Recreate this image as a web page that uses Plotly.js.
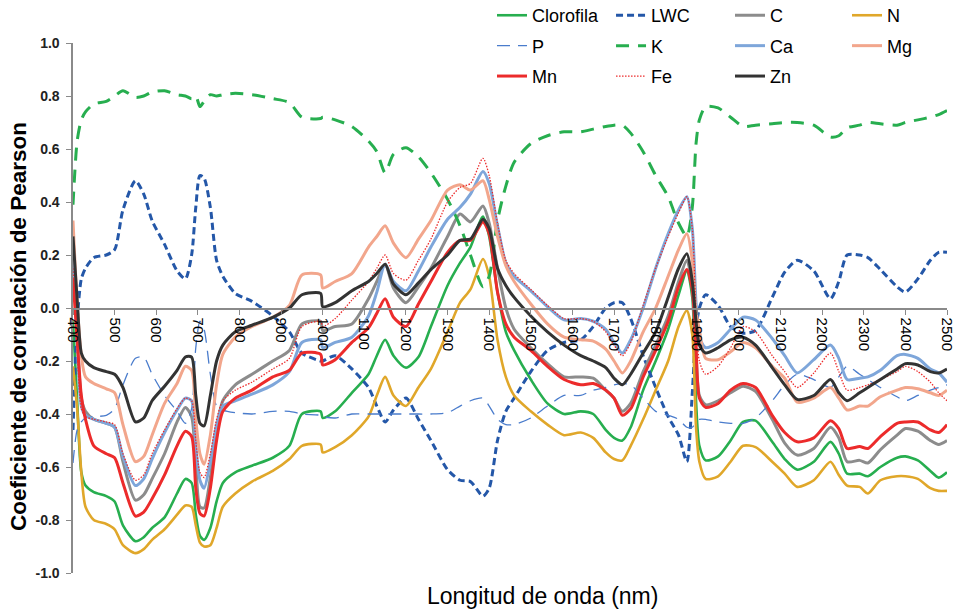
<!DOCTYPE html>
<html>
<head>
<meta charset="utf-8">
<script src="https://cdn.plot.ly/plotly-3.0.1.min.js"></script>
<style>html,body{margin:0;padding:0;background:#fff}#chart{width:957px;height:611px}</style>
</head>
<body>
<div id="chart"></div>
<script>
const wavelength = [400,410,420,430,450,480,500,520,550,570,590,620,650,670,685,695,705,715,730,745,760,790,830,880,920,950,995,1000,1030,1070,1110,1130,1150,1170,1200,1230,1260,1300,1330,1355,1385,1400,1420,1440,1460,1500,1540,1580,1620,1650,1680,1700,1720,1740,1770,1800,1830,1855,1875,1888,1897,1905,1920,1950,1980,2010,2040,2080,2110,2140,2180,2220,2240,2260,2290,2310,2340,2380,2400,2430,2460,2480,2500];

const clorofila = [-0.05,-0.35,-0.62,-0.67,-0.695,-0.71,-0.73,-0.82,-0.88,-0.865,-0.83,-0.79,-0.7,-0.645,-0.66,-0.78,-0.86,-0.875,-0.83,-0.73,-0.66,-0.62,-0.595,-0.565,-0.52,-0.4,-0.39,-0.415,-0.39,-0.32,-0.25,-0.18,-0.12,-0.18,-0.225,-0.185,-0.07,0.085,0.17,0.23,0.345,0.27,0.06,-0.09,-0.16,-0.27,-0.36,-0.4,-0.39,-0.4,-0.46,-0.49,-0.5,-0.45,-0.31,-0.2,-0.08,0.05,0.14,0.04,-0.35,-0.52,-0.575,-0.56,-0.5,-0.43,-0.425,-0.505,-0.57,-0.61,-0.58,-0.505,-0.55,-0.625,-0.625,-0.635,-0.6,-0.565,-0.56,-0.575,-0.615,-0.64,-0.62];
const lwc = [-0.46,-0.05,0.11,0.15,0.19,0.2,0.22,0.37,0.48,0.43,0.33,0.24,0.14,0.11,0.2,0.38,0.5,0.49,0.38,0.18,0.12,0.055,0.025,-0.03,-0.09,-0.17,-0.2,-0.2,-0.18,-0.23,-0.3,-0.37,-0.43,-0.385,-0.34,-0.42,-0.5,-0.61,-0.65,-0.655,-0.71,-0.68,-0.5,-0.39,-0.34,-0.24,-0.16,-0.13,-0.12,-0.07,0.0,0.02,0.02,-0.04,-0.18,-0.3,-0.41,-0.48,-0.58,-0.32,-0.08,0.0,0.05,0.01,-0.07,-0.095,-0.085,0.04,0.135,0.18,0.14,0.035,0.1,0.2,0.2,0.19,0.145,0.08,0.06,0.11,0.18,0.21,0.21];
const cVals = [0.22,-0.1,-0.34,-0.39,-0.42,-0.435,-0.45,-0.58,-0.725,-0.705,-0.645,-0.55,-0.43,-0.375,-0.41,-0.59,-0.75,-0.755,-0.64,-0.46,-0.35,-0.29,-0.25,-0.2,-0.16,-0.06,-0.05,-0.085,-0.07,-0.06,0.035,0.1,0.165,0.075,0.02,0.08,0.15,0.27,0.355,0.325,0.385,0.32,0.15,0.0,-0.08,-0.15,-0.21,-0.26,-0.26,-0.265,-0.31,-0.34,-0.39,-0.36,-0.24,-0.14,-0.03,0.1,0.18,0.08,-0.17,-0.33,-0.365,-0.35,-0.32,-0.295,-0.315,-0.42,-0.51,-0.555,-0.53,-0.45,-0.49,-0.58,-0.575,-0.585,-0.535,-0.48,-0.455,-0.465,-0.5,-0.515,-0.5];
const nVals = [-0.22,-0.38,-0.62,-0.75,-0.8,-0.815,-0.835,-0.895,-0.925,-0.91,-0.875,-0.835,-0.78,-0.745,-0.75,-0.82,-0.885,-0.9,-0.895,-0.83,-0.75,-0.7,-0.655,-0.615,-0.57,-0.52,-0.515,-0.545,-0.525,-0.48,-0.41,-0.33,-0.26,-0.33,-0.37,-0.3,-0.23,-0.09,0.02,0.07,0.185,0.12,-0.12,-0.26,-0.33,-0.39,-0.44,-0.48,-0.47,-0.49,-0.545,-0.57,-0.575,-0.52,-0.42,-0.31,-0.2,-0.07,-0.01,-0.1,-0.45,-0.58,-0.645,-0.635,-0.58,-0.52,-0.525,-0.58,-0.625,-0.675,-0.65,-0.58,-0.63,-0.67,-0.675,-0.7,-0.65,-0.635,-0.635,-0.645,-0.68,-0.69,-0.69];
const pVals = [-0.585,-0.46,-0.43,-0.415,-0.41,-0.405,-0.38,-0.29,-0.19,-0.185,-0.25,-0.33,-0.39,-0.435,-0.38,-0.15,-0.05,-0.08,-0.25,-0.37,-0.385,-0.395,-0.4,-0.39,-0.39,-0.4,-0.405,-0.41,-0.415,-0.4,-0.4,-0.4,-0.4,-0.4,-0.4,-0.4,-0.4,-0.395,-0.37,-0.35,-0.34,-0.37,-0.42,-0.44,-0.44,-0.415,-0.37,-0.33,-0.33,-0.31,-0.3,-0.29,-0.285,-0.29,-0.34,-0.39,-0.405,-0.42,-0.45,-0.45,-0.43,-0.42,-0.42,-0.43,-0.435,-0.435,-0.415,-0.35,-0.29,-0.25,-0.27,-0.3,-0.26,-0.22,-0.25,-0.27,-0.3,-0.335,-0.35,-0.33,-0.31,-0.3,-0.29];
const kVals = [0.39,0.63,0.71,0.74,0.77,0.78,0.8,0.82,0.795,0.8,0.815,0.82,0.805,0.8,0.79,0.8,0.76,0.78,0.805,0.8,0.805,0.81,0.805,0.79,0.775,0.72,0.715,0.72,0.71,0.685,0.63,0.59,0.51,0.58,0.605,0.57,0.51,0.41,0.31,0.2,0.08,0.12,0.33,0.46,0.55,0.62,0.65,0.665,0.665,0.675,0.685,0.69,0.69,0.66,0.59,0.5,0.42,0.32,0.27,0.38,0.62,0.71,0.76,0.755,0.72,0.685,0.69,0.695,0.7,0.7,0.69,0.645,0.65,0.68,0.69,0.7,0.695,0.69,0.7,0.71,0.72,0.73,0.745];
const caVals = [0.25,-0.12,-0.37,-0.405,-0.42,-0.435,-0.45,-0.56,-0.67,-0.645,-0.57,-0.47,-0.385,-0.34,-0.35,-0.52,-0.65,-0.68,-0.58,-0.44,-0.37,-0.35,-0.325,-0.29,-0.24,-0.13,-0.12,-0.15,-0.13,-0.11,-0.03,0.06,0.165,0.1,0.065,0.14,0.23,0.335,0.38,0.43,0.515,0.47,0.31,0.17,0.12,0.065,0.005,-0.045,-0.04,-0.05,-0.08,-0.13,-0.17,-0.12,0.0,0.15,0.28,0.37,0.42,0.3,0.02,-0.11,-0.15,-0.13,-0.08,-0.035,-0.045,-0.115,-0.18,-0.245,-0.195,-0.14,-0.19,-0.27,-0.265,-0.26,-0.235,-0.18,-0.175,-0.19,-0.23,-0.245,-0.28];
const mgVals = [0.33,0.02,-0.18,-0.26,-0.285,-0.305,-0.32,-0.44,-0.58,-0.56,-0.48,-0.36,-0.285,-0.22,-0.235,-0.42,-0.55,-0.59,-0.48,-0.29,-0.175,-0.11,-0.07,-0.035,0.01,0.125,0.125,0.075,0.1,0.13,0.23,0.27,0.31,0.245,0.19,0.26,0.33,0.445,0.465,0.445,0.48,0.41,0.27,0.16,0.1,0.015,-0.06,-0.11,-0.12,-0.125,-0.155,-0.2,-0.245,-0.2,-0.09,0.0,0.12,0.22,0.28,0.18,-0.02,-0.08,-0.19,-0.195,-0.165,-0.13,-0.15,-0.22,-0.265,-0.355,-0.34,-0.3,-0.34,-0.385,-0.37,-0.37,-0.335,-0.31,-0.3,-0.305,-0.32,-0.33,-0.31];
const mnVals = [0.11,-0.12,-0.33,-0.42,-0.52,-0.55,-0.565,-0.66,-0.785,-0.77,-0.72,-0.63,-0.52,-0.465,-0.485,-0.68,-0.775,-0.785,-0.68,-0.5,-0.39,-0.34,-0.31,-0.26,-0.235,-0.17,-0.175,-0.215,-0.195,-0.13,-0.075,-0.02,0.035,-0.035,-0.07,0.015,0.1,0.21,0.255,0.255,0.325,0.28,0.06,-0.06,-0.11,-0.16,-0.22,-0.27,-0.29,-0.285,-0.31,-0.34,-0.405,-0.38,-0.26,-0.16,-0.05,0.08,0.145,0.07,-0.15,-0.34,-0.375,-0.36,-0.31,-0.285,-0.3,-0.405,-0.47,-0.505,-0.49,-0.425,-0.455,-0.53,-0.523,-0.53,-0.485,-0.435,-0.43,-0.43,-0.46,-0.47,-0.44];
const feVals = [0.15,-0.15,-0.38,-0.41,-0.42,-0.43,-0.44,-0.55,-0.65,-0.63,-0.55,-0.46,-0.38,-0.34,-0.35,-0.5,-0.62,-0.64,-0.55,-0.42,-0.35,-0.31,-0.28,-0.23,-0.19,-0.07,-0.05,-0.07,-0.04,0.03,0.1,0.15,0.2,0.13,0.105,0.18,0.26,0.4,0.455,0.47,0.565,0.5,0.32,0.18,0.13,0.07,0.01,-0.04,-0.04,-0.05,-0.09,-0.14,-0.18,-0.13,0.01,0.15,0.27,0.36,0.42,0.3,-0.02,-0.2,-0.25,-0.22,-0.15,-0.07,-0.09,-0.18,-0.24,-0.3,-0.245,-0.17,-0.24,-0.31,-0.3,-0.29,-0.27,-0.24,-0.22,-0.24,-0.28,-0.32,-0.35];
const znVals = [0.27,0.03,-0.17,-0.2,-0.225,-0.24,-0.25,-0.3,-0.43,-0.415,-0.35,-0.295,-0.235,-0.185,-0.185,-0.33,-0.435,-0.445,-0.33,-0.2,-0.14,-0.09,-0.065,-0.035,0.0,0.05,0.055,0.005,0.02,0.065,0.1,0.13,0.165,0.09,0.05,0.095,0.145,0.2,0.255,0.26,0.335,0.3,0.15,0.085,0.04,-0.03,-0.09,-0.14,-0.18,-0.2,-0.225,-0.265,-0.29,-0.25,-0.17,-0.09,0.04,0.15,0.205,0.1,-0.05,-0.14,-0.17,-0.15,-0.12,-0.11,-0.14,-0.225,-0.29,-0.345,-0.33,-0.27,-0.32,-0.35,-0.32,-0.3,-0.27,-0.23,-0.21,-0.215,-0.24,-0.245,-0.23];

const xTicks = [400,500,600,700,800,900,1000,1100,1200,1300,1400,1500,1600,1700,1800,1900,2000,2100,2200,2300,2400,2500];
const yTicks = [-1,-0.8,-0.6,-0.4,-0.2,0,0.2,0.4,0.6,0.8,1];
const yTickText = ['-1.0','-0.8','-0.6','-0.4','-0.2','0.0','0.2','0.4','0.6','0.8','1.0'];

const series = [
  {name:'Clorofila', y:clorofila, color:'#27ae4f', width:2.6, dash:'solid', legend:'legend'},
  {name:'LWC', y:lwc, color:'#2457a8', width:3, dash:'7px,4px', legend:'legend2'},
  {name:'C', y:cVals, color:'#8c8c8c', width:3, dash:'solid', legend:'legend3'},
  {name:'N', y:nVals, color:'#e0a72a', width:2.6, dash:'solid', legend:'legend4'},
  {name:'P', y:pVals, color:'#4a7ccc', width:1.3, dash:'13px,8px', legend:'legend'},
  {name:'K', y:kVals, color:'#27ae4f', width:3, dash:'13px,9px', legend:'legend2'},
  {name:'Ca', y:caVals, color:'#7ea6da', width:3, dash:'solid', legend:'legend3'},
  {name:'Mg', y:mgVals, color:'#f2a68c', width:3, dash:'solid', legend:'legend4'},
  {name:'Mn', y:mnVals, color:'#ec2b2b', width:3, dash:'solid', legend:'legend'},
  {name:'Fe', y:feVals, color:'#ec2b2b', width:1.3, dash:'1.5px,1.5px', legend:'legend2'},
  {name:'Zn', y:znVals, color:'#333333', width:3, dash:'solid', legend:'legend3'}
];

const traces = series.map(s => ({
  type:'scatter', mode:'lines', name:s.name, x:wavelength, y:s.y,
  line:{color:s.color, width:s.width, dash:s.dash, shape:'spline', smoothing:0.7},
  legend:s.legend, legendgroup:s.name, hoverinfo:'skip'
}));

const legFont = {family:'Arial, Liberation Sans, sans-serif', size:18, color:'#000'};
function col(x) {
  return {orientation:'v', xanchor:'left', yanchor:'top', x:x, y:1.0867,
    font:legFont, bgcolor:'rgba(0,0,0,0)', borderwidth:0,
    traceorder:'grouped', tracegroupgap:4, itemwidth:30};
}

const layout = {
  width:957, height:611,
  margin:{l:73, r:10, t:43, b:38, autoexpand:false},
  paper_bgcolor:'#fff', plot_bgcolor:'#fff',
  showlegend:true,
  legend:col(0.4794), legend2:col(0.6156), legend3:col(0.7517), legend4:col(0.8856),
  xaxis:{range:[400,2500], tickvals:xTicks, tickangle:90, ticks:'outside', ticklen:5,
    tickcolor:'#8a8a8a', showline:true, linecolor:'#8a8a8a', linewidth:1.6,
    anchor:'free', position:0.5, showgrid:false, zeroline:false,
    tickfont:{family:'Arial, Liberation Sans, sans-serif', size:15, color:'#000'}},
  yaxis:{range:[-1,1], tickvals:yTicks, ticktext:yTickText, ticks:'outside', ticklen:5,
    tickcolor:'#8a8a8a', showline:true, linecolor:'#8a8a8a', linewidth:1.6,
    showgrid:false, zeroline:false, ticklabelstandoff:4,
    tickfont:{family:'Arial, Liberation Sans, sans-serif', size:14, color:'#222', weight:'bold'}},
  annotations:[
    {text:'Longitud de onda (nm)', xref:'paper', yref:'paper', x:0.537, y:-0.0717,
     xanchor:'center', yanchor:'bottom', showarrow:false,
     font:{family:'Arial, Liberation Sans, sans-serif', size:23, color:'#000'}},
    {text:'<b>Coeficiente de correlación de Pearson</b>', xref:'paper', yref:'paper',
     x:-0.063, y:0.466, xanchor:'center', yanchor:'middle', textangle:-90, showarrow:false,
     font:{family:'Arial, Liberation Sans, sans-serif', size:22.5, color:'#000'}}
  ]
};

Plotly.newPlot('chart', traces, layout, {displayModeBar:false, staticPlot:true});
</script>
</body>
</html>
